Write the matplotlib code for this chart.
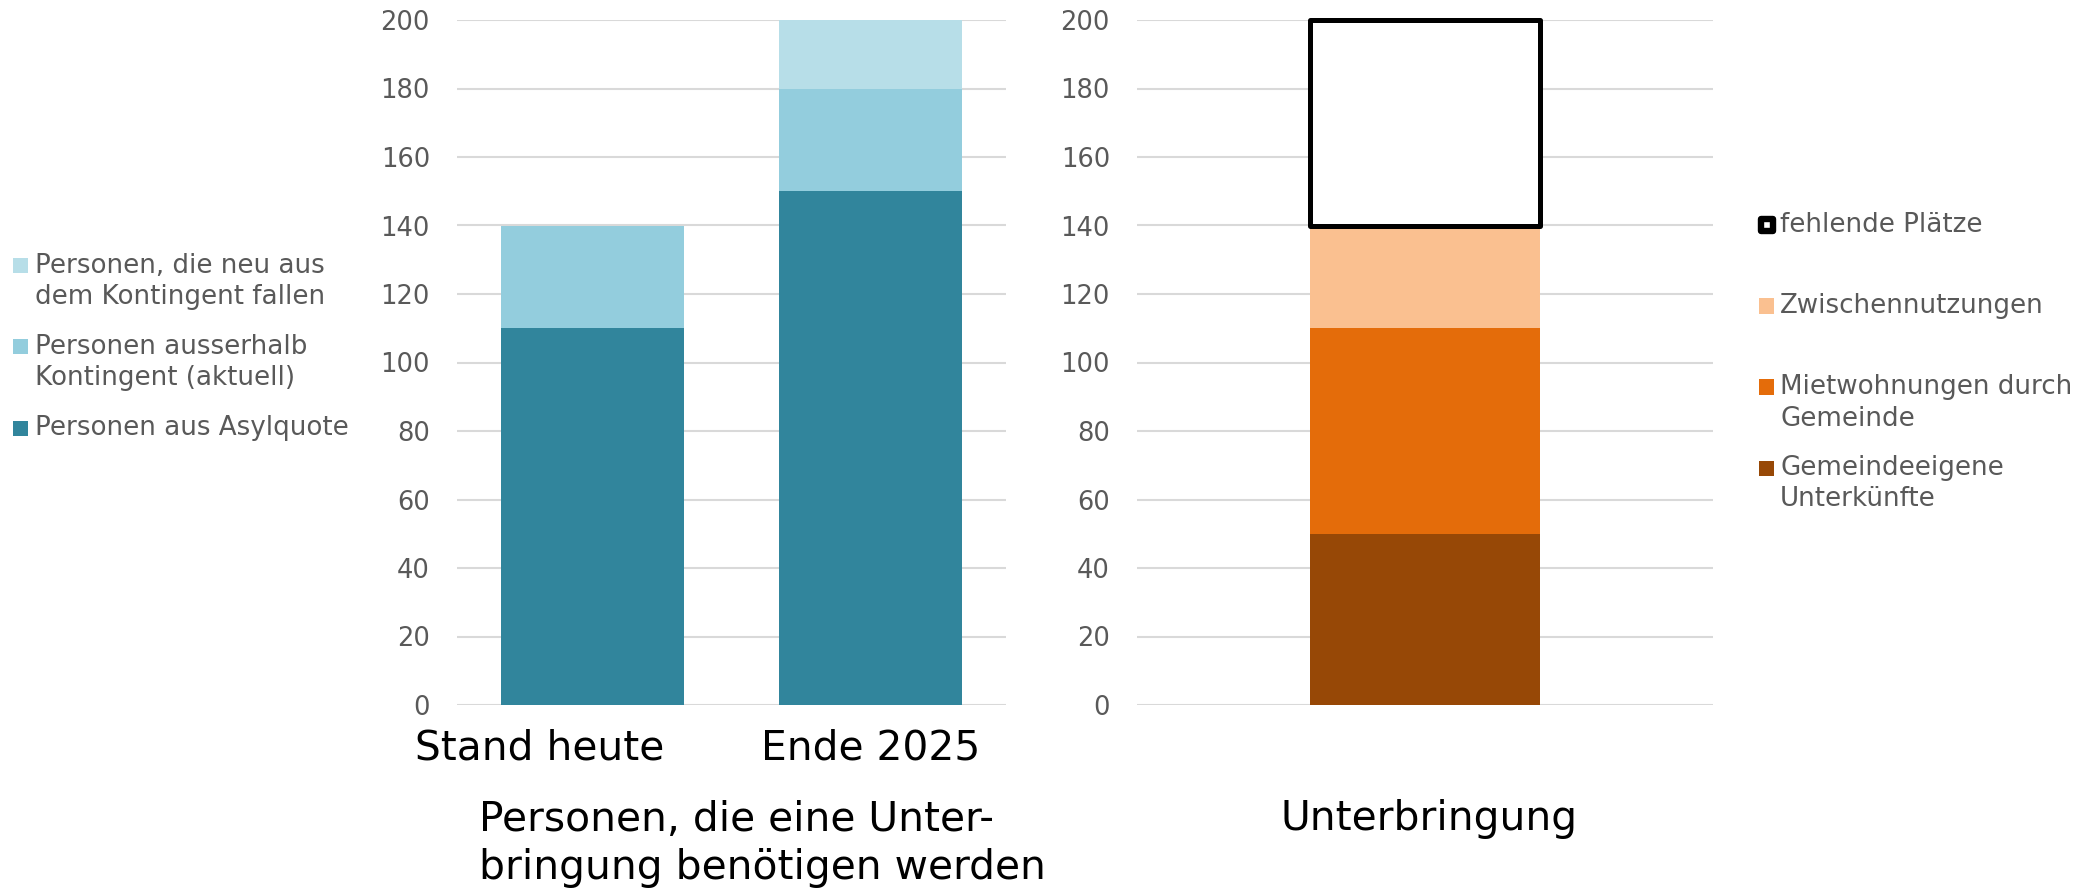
import matplotlib
matplotlib.use('Agg')
import matplotlib.pyplot as plt
from matplotlib.patches import Rectangle
from matplotlib.transforms import ScaledTranslation

# ---------------- data ----------------
categories_left = ['Stand heute', 'Ende 2025']
asylquote = [110, 150]
ausserhalb = [30, 30]
neu_aus_kontingent = [0, 20]
legend_left = ['Personen, die neu aus\ndem Kontingent fallen',
               'Personen ausserhalb\nKontingent (aktuell)',
               'Personen aus Asylquote']

categories_right = ['Unterbringung']
gemeindeeigene = [50]
mietwohnungen = [60]
zwischennutzungen = [30]
fehlende = [60]
legend_right = ['fehlende Plätze', 'Zwischennutzungen',
                'Mietwohnungen durch\nGemeinde', 'Gemeindeeigene\nUnterkünfte']

title_left = 'Personen, die eine Unter-\nbringung benötigen werden'
title_right = 'Unterbringung'
yticks = [0, 20, 40, 60, 80, 100, 120, 140, 160, 180, 200]

# ---------------- style ----------------
C_DARK, C_MID, C_LIGHT = '#31859C', '#93CDDD', '#B7DEE8'
C_BROWN, C_ORANGE, C_PEACH = '#974806', '#E46C0A', '#FAC090'
GRID = '#D9D9D9'
TXT = '#595959'
plt.rcParams['font.family'] = ['DejaVu Sans']

W, H = 2098, 890
fig = plt.figure(figsize=(W / 100, H / 100), dpi=100)

def fx(px):
    return px / W

def fy(py):
    return 1 - py / H

ax1 = fig.add_axes([fx(457), fy(705), fx(1006) - fx(457), fy(20) - fy(705)])
ax2 = fig.add_axes([fx(1137), fy(705), fx(1713) - fx(1137), fy(20) - fy(705)])

for ax in (ax1, ax2):
    ax.set_ylim(0, 200)
    ax.set_yticks(yticks)
    ax.grid(axis='y', color=GRID, linewidth=1.5)
    ax.set_axisbelow(True)
    for s in ax.spines.values():
        s.set_visible(False)
    ax.tick_params(axis='y', length=0, pad=19.5, labelsize=18.5, labelcolor=TXT)
    ax.tick_params(axis='x', length=0)

# left chart
x = list(range(len(categories_left)))
bw = 0.66
b1 = [a for a in asylquote]
b2 = [a + b for a, b in zip(asylquote, ausserhalb)]
ax1.bar(x, asylquote, bw, color=C_DARK, zorder=3)
ax1.bar(x, ausserhalb, bw, bottom=b1, color=C_MID, zorder=3)
ax1.bar(x, neu_aus_kontingent, bw, bottom=b2, color=C_LIGHT, zorder=3)
ax1.set_xlim(-0.49, 1.49)
ax1.set_xticks(x)
ax1.set_xticklabels(categories_left, fontsize=29.3, color='black')
ax1.tick_params(axis='x', pad=17)
# first category label sits left of its bar centre in the reference
lab0 = ax1.get_xticklabels()[0]
lab0.set_transform(lab0.get_transform() + ScaledTranslation(-0.53, 0, fig.dpi_scale_trans))

# right chart
xr = [0]
bwr = 0.4
r1 = gemeindeeigene
r2 = [a + b for a, b in zip(gemeindeeigene, mietwohnungen)]
r3 = [a + b for a, b in zip(r2, zwischennutzungen)]
ax2.bar(xr, gemeindeeigene, bwr, color=C_BROWN, zorder=3)
ax2.bar(xr, mietwohnungen, bwr, bottom=r1, color=C_ORANGE, zorder=3)
ax2.bar(xr, zwischennutzungen, bwr, bottom=r2, color=C_PEACH, zorder=3)
ax2.bar(xr, fehlende, bwr, bottom=r3, facecolor='white', edgecolor='black',
        linewidth=3.6, zorder=4, clip_on=False, joinstyle='round')
ax2.set_xlim(-0.5, 0.5)
ax2.set_xticks([])

# titles
fig.text(fx(479), fy(844), title_left, ha='left', va='center', fontsize=29.3,
         color='black', linespacing=1.27)
fig.text(fx(1429), fy(819), title_right, ha='center', va='center', fontsize=29.3,
         color='black')

# left legend
lcols = [C_LIGHT, C_MID, C_DARK]
lcenters = [265.5, 346.5, 428.5]
for lab, col, cy in zip(legend_left, lcols, lcenters):
    fig.add_artist(Rectangle((fx(13), fy(cy + 7.5)), fx(15), 15 / H,
                             transform=fig.transFigure, facecolor=col, edgecolor='none'))
    nl = lab.count('\n')
    fig.text(fx(35), fy(cy + nl * 16), lab, ha='left', va='center', fontsize=18.8,
             color=TXT, linespacing=1.25)

# right legend
rcenters = [225, 306, 387, 468]
rcols = [None, C_PEACH, C_ORANGE, C_BROWN]
for lab, col, cy in zip(legend_right, rcols, rcenters):
    if col is None:
        fig.add_artist(Rectangle((fx(1760.5), fy(cy + 6)), fx(12), 12 / H,
                                 transform=fig.transFigure, facecolor='white',
                                 edgecolor='black', linewidth=4.6, joinstyle='round'))
    else:
        fig.add_artist(Rectangle((fx(1759), fy(cy + 7.5)), fx(15), 15 / H,
                                 transform=fig.transFigure, facecolor=col, edgecolor='none'))
    nl = lab.count('\n')
    fig.text(fx(1780), fy(cy + nl * 16), lab, ha='left', va='center', fontsize=18.8,
             color=TXT, linespacing=1.25)

fig.savefig('out.png', dpi=100, facecolor='white')
